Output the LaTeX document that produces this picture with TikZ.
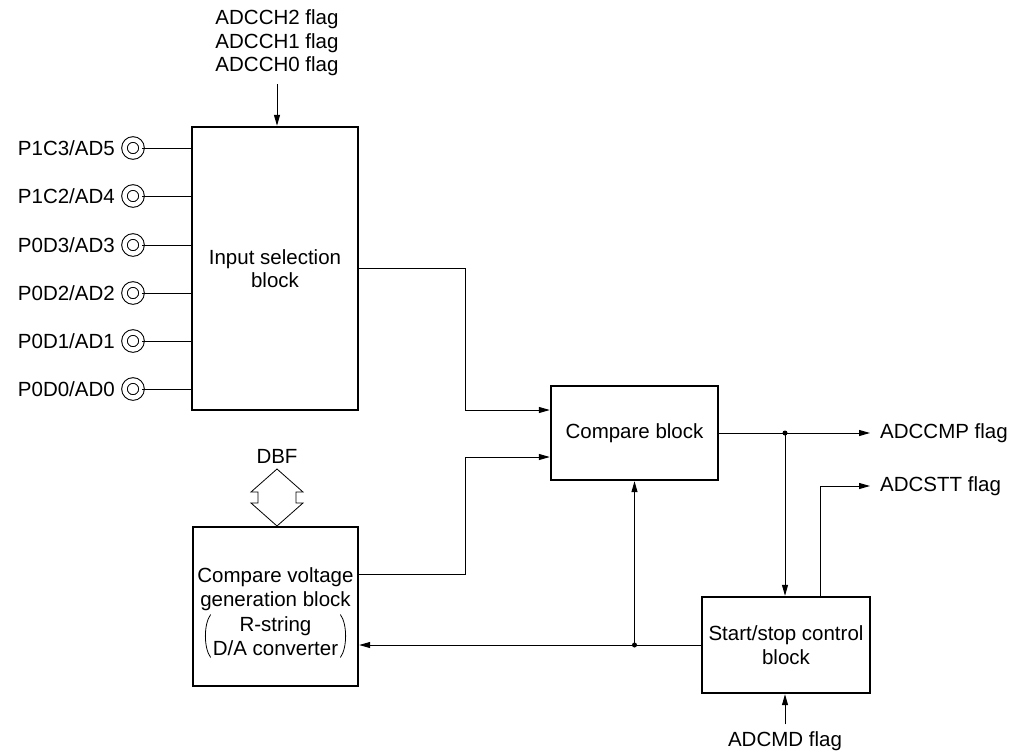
\documentclass[tikz,border=0pt]{standalone}
\usepackage{fontspec}
\setmainfont{Liberation Sans}
\usetikzlibrary{arrows.meta,calc}
\begin{document}
\begin{tikzpicture}[x=1pt,y=-1pt,
  every node/.style={font=\fontsize{20.5}{23.5}\selectfont},
  blk/.style={draw,line width=2.4pt,rectangle,inner sep=0pt,align=center},
  ln/.style={line width=1pt},
  arr/.style={line width=1pt,-{Triangle[length=11pt,width=6pt]}},
  pin/.style={circle,draw,line width=1pt,double,double distance=4.5pt,minimum size=17pt,inner sep=0pt},
  lbl/.style={inner sep=0pt,align=center},
  dot/.style={circle,fill,inner sep=0pt,minimum size=5pt}]
\useasboundingbox (0,0) rectangle (1015,753);
% blocks
\node[blk,minimum width=166pt,minimum height=283pt] (insel) at (275,268.5) {Input selection\\block};
\node[blk,minimum width=167pt,minimum height=94pt] (cmp) at (634.5,433) {Compare block};
\node[blk,minimum width=165pt,minimum height=159pt] (cvg) at (275.5,606.5) {};
\node[lbl] (cvgtexta) at (275.5,589) {Compare voltage\\generation block};
\node[lbl] (cvgtextb) at (275.5,636) {R-string\\D/A converter};
\draw[line width=0.8pt] ($(cvgtextb.north west)+(-2,-2)$) .. controls ($(cvgtextb.west)+(-9,-12)$) and ($(cvgtextb.west)+(-9,12)$) .. ($(cvgtextb.south west)+(-2,2)$);
\draw[line width=0.8pt] ($(cvgtextb.north east)+(2,-2)$) .. controls ($(cvgtextb.east)+(9,-12)$) and ($(cvgtextb.east)+(9,12)$) .. ($(cvgtextb.south east)+(2,2)$);
\node[blk,minimum width=168pt,minimum height=96pt] (ssc) at (786,645) {Start/stop control\\block};
% top flags
\node[lbl] (flags) at (277,43) {ADCCH2 flag\\ADCCH1 flag\\ADCCH0 flag};
\draw[arr] ($(flags.south)+(0,8)$) -- (flags.south |- insel.north);
% pins
\foreach \i/\y/\t in {5/148/{P1C3/AD5},4/196/{P1C2/AD4},3/245/{P0D3/AD3},2/293/{P0D2/AD2},1/341/{P0D1/AD1},0/389/{P0D0/AD0}}{
  \node[pin] (p\i) at (133,\y) {};
  \node[lbl,anchor=east] (t\i) at (115,\y) {\t};
  \draw[ln] (p\i.east) -- (p\i -| insel.west);
}
% input selection to compare
\draw[arr] (insel.east) -- ++(106,0) |- ($(cmp.west)+(0,-23)$);
% compare voltage to compare
\draw[arr] ($(cvg.north east)+(0,49)$) -- ++(106,0) |- ($(cmp.west)+(0,24)$);
% outputs
\node[lbl,anchor=west,inner xsep=10pt] (adccmp) at (870,433) {ADCCMP flag};
\node[lbl,anchor=west,inner xsep=10pt] (adcstt) at (870,486) {ADCSTT flag};
\coordinate (d1) at (785,433);
\draw[arr] (cmp.east) -- (adccmp.west);
\node[dot] at (d1) {};
\draw[arr] (d1) -- (d1 |- ssc.north);
\draw[arr] ($(ssc.north)+(34,0)$) |- (adcstt.west);
% start/stop to compare voltage and compare
\coordinate (d2) at (634.5,645);
\draw[arr] (ssc.west) -- (d2) -- (d2 -| cvg.east);
\node[dot] at (d2) {};
\draw[arr] (d2) -- (cmp.south);
% ADCMD
\node[lbl] (adcmd) at (785,741) {ADCMD flag};
\draw[arr] ($(adcmd.north)+(0,-7)$) -- (adcmd.north |- ssc.south);
% DBF
\node[lbl] (dbf) at (277,456) {DBF};
\draw[line width=0.8pt,line join=miter] (277,469) -- (303,492) -- (296,492) -- (296,503) -- (303,503) -- (277,526) -- (251,503) -- (258,503) -- (258,492) -- (251,492) -- cycle;
\end{tikzpicture}
\end{document}
